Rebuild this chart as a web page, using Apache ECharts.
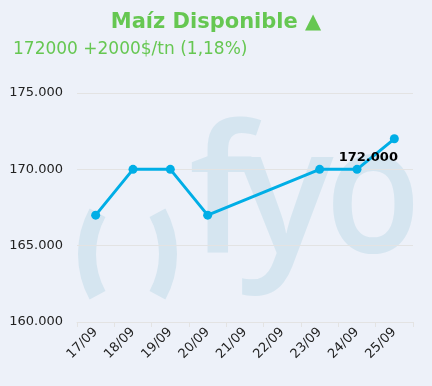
<!DOCTYPE html>
<html>
<head>
<meta charset="utf-8">
<script src="https://cdn.jsdelivr.net/npm/echarts@6/dist/echarts.min.js"></script>
<style>
html,body{margin:0;padding:0;background:#edf1f9;}
#chart{width:432px;height:386px;}
</style>
</head>
<body>
<div id="chart"></div>
<script>
const titleText = "Maíz Disponible ▲";
const subtitleText = "172000 +2000$/tn (1,18%)";
const categories = ["17/09","18/09","19/09","20/09","21/09","22/09","23/09","24/09","25/09"];
const prices = [167000, 170000, 170000, 167000, null, null, 170000, 170000, 172000];
const yMin = 160000, yMax = 175000, yStep = 5000;
const lastLabel = "172.000";

function fmt(v){ return String(v).replace(/\B(?=(\d{3})+(?!\d))/g, "."); }

const chart = echarts.init(document.getElementById('chart'), null, {renderer:'canvas'});
const wm = '#d5e5f0';
const wmFont = {fontFamily:'Open Sans', fontWeight:600, fontSize:178, fill:wm, align:'center', verticalAlign:'middle'};
const seriesData = prices.map((v,i)=>{
  if (i === prices.length-1) {
    return {value:v, label:{show:true, position:'inside', offset:[-26,19], formatter:lastLabel,
      fontFamily:'DejaVu Sans', fontWeight:'bold', fontSize:13, color:'#000'}};
  }
  return v;
});
chart.setOption({
  backgroundColor:'#edf1f9',
  animation:false,
  title:[
    {text:titleText, left:'center', top:7,
     textStyle:{fontFamily:'DejaVu Sans', fontWeight:'bold', fontSize:21, color:'#66c752'}},
    {text:subtitleText, left:8, top:36,
     textStyle:{fontFamily:'DejaVu Sans', fontWeight:'normal', fontSize:17, color:'#66c752'}}
  ],
  graphic:[
    {type:'text', z:-10, silent:true, x:221, y:202, style:Object.assign({text:'f'}, wmFont)},
    {type:'text', z:-10, silent:true, x:286, y:202, style:Object.assign({text:'y'}, wmFont)},
    {type:'text', z:-10, silent:true, x:373, y:201, scaleX:0.88, style:Object.assign({text:'o'}, wmFont)},
    {type:'arc', z:-10, silent:true,
     shape:{cx:173, cy:254, r:86, startAngle:Math.PI-0.5, endAngle:Math.PI+0.5, clockwise:true},
     style:{stroke:wm, lineWidth:18, fill:null}},
    {type:'arc', z:-10, silent:true,
     shape:{cx:82, cy:254, r:86, startAngle:-0.5, endAngle:0.5, clockwise:true},
     style:{stroke:wm, lineWidth:18, fill:null}}
  ],
  grid:{left:77, right:19, top:93, bottom:64},
  xAxis:{
    type:'category', data:categories, boundaryGap:true,
    axisLine:{lineStyle:{color:'#e3e3e3'}},
    axisTick:{show:true, length:5, lineStyle:{color:'#e3e3e3'}},
    axisLabel:{rotate:45, interval:0, margin:8, fontFamily:'DejaVu Sans', fontSize:13, color:'#222'}
  },
  yAxis:{
    type:'value', min:yMin, max:yMax, interval:yStep,
    axisLine:{show:false}, axisTick:{show:false},
    splitLine:{lineStyle:{color:'#e3e3e3'}},
    axisLabel:{formatter:fmt, margin:14, fontFamily:'DejaVu Sans', fontSize:13, color:'#222'}
  },
  series:[{
    type:'line', data:seriesData, connectNulls:true,
    symbol:'circle', symbolSize:9, showSymbol:true,
    lineStyle:{color:'#00aee6', width:3},
    itemStyle:{color:'#00aee6'}
  }]
});
</script>
</body>
</html>
